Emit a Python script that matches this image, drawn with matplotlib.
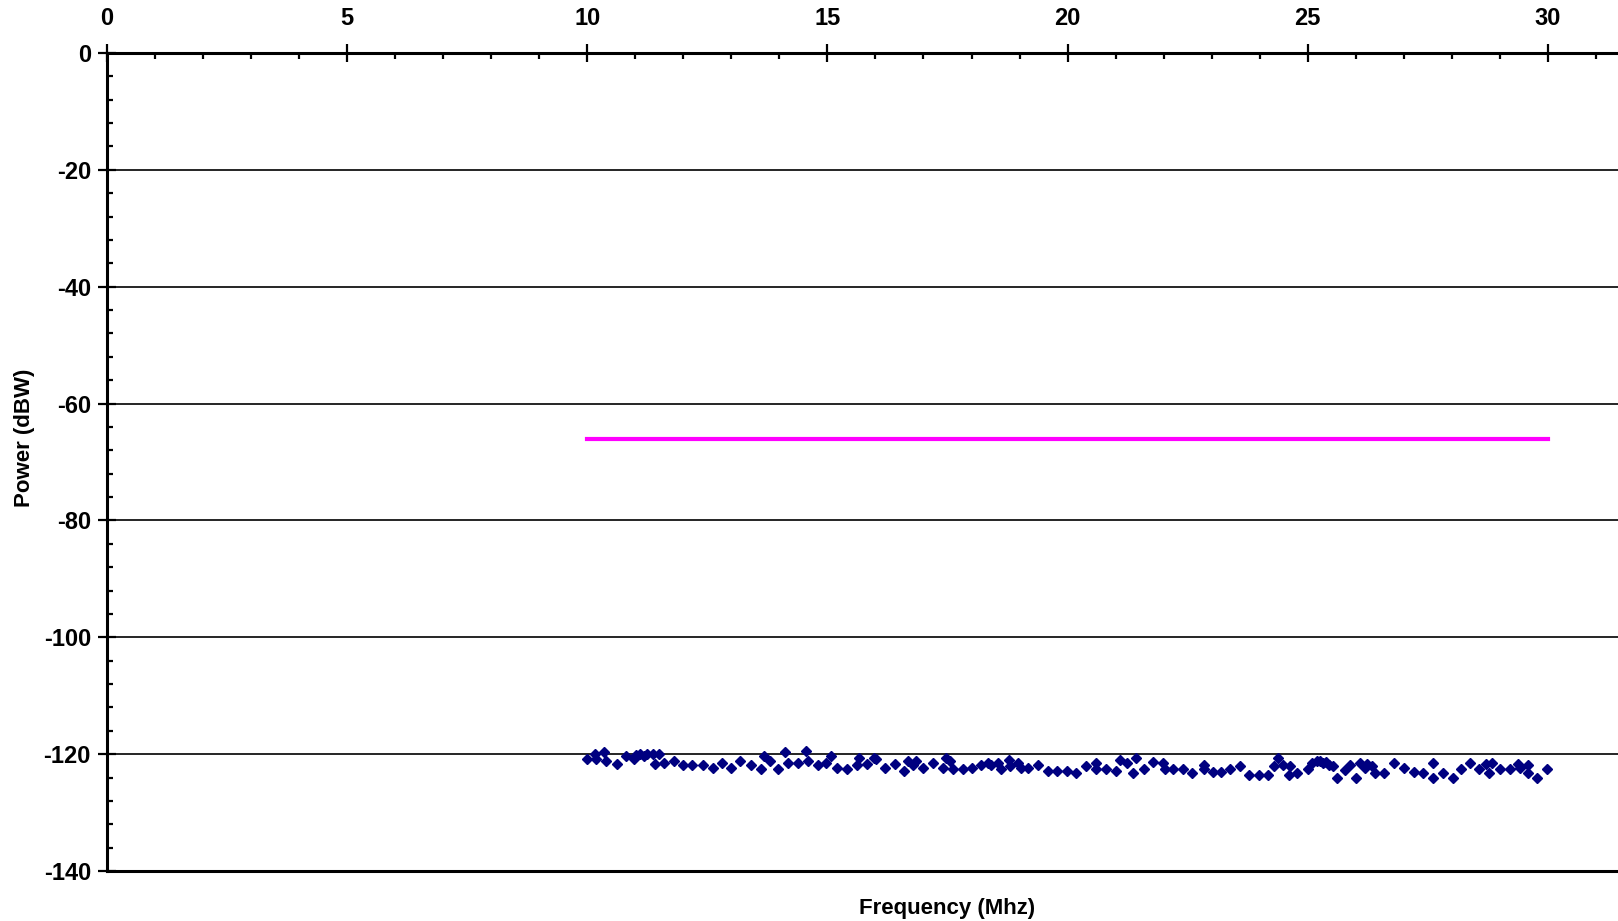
import numpy as np
import matplotlib.pyplot as plt
from matplotlib.ticker import MultipleLocator

plt.rcParams['font.family'] = ['Liberation Sans', 'DejaVu Sans']
plt.rcParams['font.weight'] = 'bold'
plt.rcParams['axes.unicode_minus'] = False

# measured noise floor (MHz, dBW)
freq = [10.0, 10.16, 10.19, 10.35, 10.40, 10.61, 10.81, 10.98, 11.02, 11.09,
        11.18, 11.25, 11.36, 11.41, 11.50, 11.60, 11.81, 11.99, 12.19, 12.40,
        12.61, 12.81, 12.99, 13.19, 13.40, 13.61, 13.68, 13.80, 13.98, 14.11,
        14.18, 14.39, 14.56, 14.60, 14.80,
        14.97, 15.07, 15.19, 15.40, 15.61, 15.66, 15.82, 15.98, 16.02, 16.20,
        16.41, 16.60, 16.68, 16.79, 16.84, 17.00, 17.19, 17.41, 17.47, 17.55,
        17.61, 17.82, 18.02, 18.19, 18.35, 18.41, 18.56, 18.61, 18.77, 18.80,
        18.97, 19.04, 19.18, 19.39, 19.60, 19.79,
        19.98, 20.17, 20.38, 20.59, 20.59, 20.80, 21.01, 21.10, 21.23, 21.37,
        21.42, 21.59, 21.77, 21.99, 22.03, 22.19, 22.40, 22.60, 22.83, 22.85,
        23.02, 23.19, 23.38, 23.58, 23.78, 23.99, 24.18, 24.30, 24.39, 24.49,
        24.60, 24.63, 24.78,
        25.01, 25.08, 25.19, 25.25, 25.32, 25.39, 25.45, 25.52, 25.60, 25.78,
        25.87, 26.00, 26.09, 26.19, 26.24, 26.33, 26.40, 26.59, 26.80, 27.00,
        27.21, 27.39, 27.60, 27.60, 27.81, 28.02, 28.20, 28.38, 28.57, 28.72,
        28.78, 28.83, 29.00, 29.21, 29.38, 29.42, 29.59, 29.59, 29.78, 29.99]
power = [-120.9, -120.0, -120.9, -119.7, -121.2, -121.7, -120.4, -120.8, -120.1, -120.0,
         -120.4, -119.9, -120.0, -121.7, -120.0, -121.5, -121.2, -121.9, -121.9, -121.9,
         -122.3, -121.5, -122.3, -121.2, -121.9, -122.6, -120.4, -121.2, -122.6, -119.7,
         -121.5, -121.5, -119.4, -121.2, -121.9,
         -121.5, -120.3, -122.3, -122.6, -121.9, -120.7, -121.7, -120.7, -120.9, -122.3,
         -121.7, -122.9, -121.2, -121.9, -121.2, -122.3, -121.5, -122.3, -120.6, -121.2,
         -122.6, -122.6, -122.3, -121.9, -121.5, -121.9, -121.5, -122.6, -121.0, -122.1,
         -121.5, -122.3, -122.3, -121.9, -122.9, -122.9,
         -122.9, -123.2, -122.1, -121.6, -122.6, -122.6, -122.9, -121.0, -121.6, -123.2,
         -120.7, -122.6, -121.3, -121.5, -122.6, -122.6, -122.6, -123.2, -121.9, -122.6,
         -123.0, -123.0, -122.6, -122.0, -123.6, -123.6, -123.6, -122.1, -120.7, -121.9,
         -123.6, -122.0, -123.2,
         -122.6, -121.5, -121.1, -121.1, -121.5, -121.3, -121.9, -122.1, -124.0, -122.8,
         -121.9, -124.0, -121.6, -122.4, -121.7, -122.0, -123.3, -123.3, -121.5, -122.3,
         -123.0, -123.3, -121.5, -124.0, -123.3, -124.0, -122.6, -121.5, -122.6, -121.7,
         -123.3, -121.5, -122.6, -122.6, -121.7, -122.3, -121.9, -123.3, -124.0, -122.6]

# limit line
limit_freq = [10, 30]
limit_power = [-66, -66]

fig = plt.figure(figsize=(16.18, 9.21), dpi=100)
ax = fig.add_axes([0.0661, 0.0543, 1.039, 0.8882])

ax.plot(limit_freq, limit_power, color='#FF00FF', lw=3, zorder=3)
ax.plot(freq, power, 'D', color='#000080', markersize=5.5, mec='#000080', zorder=4)

ax.set_xlim(0, 35)
ax.set_ylim(-140, 0)
ax.xaxis.tick_top()
ax.xaxis.set_major_locator(MultipleLocator(5))
ax.xaxis.set_minor_locator(MultipleLocator(1))
ax.yaxis.set_major_locator(MultipleLocator(20))
ax.yaxis.set_minor_locator(MultipleLocator(4))
ax.tick_params(which='major', direction='inout', length=13, width=1.6,
               labelsize=17, color='black')
ax.tick_params(axis='x', which='major', pad=10)
ax.tick_params(axis='y', which='major', pad=5)
ax.tick_params(which='minor', direction='in', length=4.5, width=1.6)
ax.set_xticks([0, 5, 10, 15, 20, 25, 30])

ax.yaxis.grid(True, which='major', color='black', lw=1.2)
ax.set_axisbelow(True)
for side in ['left', 'top', 'bottom']:
    ax.spines[side].set_linewidth(2.2)
ax.spines['right'].set_visible(False)

ax.set_xlabel('Frequency (Mhz)', fontsize=16, fontweight='bold')
ax.xaxis.set_label_coords(0.5, -0.033)
ax.set_ylabel('Power (dBW)', fontsize=16, fontweight='bold')
ax.yaxis.set_label_coords(-0.043, 0.529)

fig.savefig('out.png', dpi=100)
